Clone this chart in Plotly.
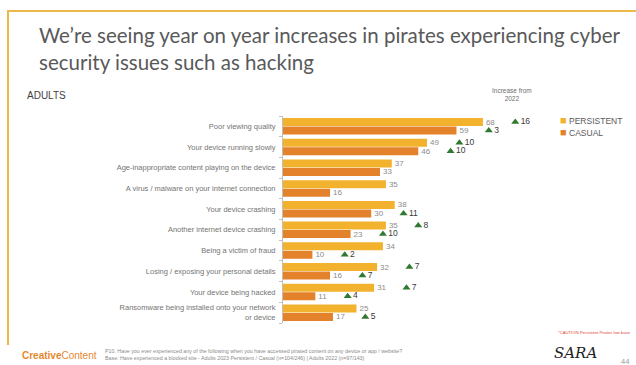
import plotly.graph_objects as go

# ---------------- data ----------------
categories = [
    "Poor viewing quality",
    "Your device running slowly",
    "Age-inappropriate content playing on the device",
    "A virus / malware on your internet connection",
    "Your device crashing",
    "Another internet device crashing",
    "Being a victim of fraud",
    "Losing / exposing your personal details",
    "Your device being hacked",
    "Ransomware being installed onto your network<br>or device",
]
persistent = [68, 49, 37, 35, 38, 35, 34, 32, 31, 25]
casual = [59, 46, 33, 16, 30, 23, 10, 16, 11, 17]
persistent_inc = [16, 10, None, None, None, 8, None, 7, 7, None]
casual_inc = [3, 10, None, None, 11, 10, 2, 7, 4, 5]
series_names = ["PERSISTENT", "CASUAL"]

# ---------------- layout geometry ----------------
W, H = 636, 365
L, R, T, B = 283, 59, 116, 42
PW, PH = W - L - R, H - T - B

def fx(p):
    return (p - L) / PW

def fy(p):
    return 1 - (p - T) / PH

C_PERS = "#F2B22E"
C_CAS = "#E4822B"
GREEN = "#2F7A2F"
LABEL_FONT = "Liberation Sans"

idx = list(range(len(categories)))
OFF = 0.205
BW = 0.385
INC_GAP = 11

fig = go.Figure()
for name, vals, color, sign in [(series_names[0], persistent, C_PERS, -1),
                                (series_names[1], casual, C_CAS, 1)]:
    fig.add_trace(go.Bar(
        name=name, orientation="h",
        x=vals, y=[i + sign * OFF for i in idx], width=BW,
        marker=dict(color=color, line=dict(width=0)),
        text=[str(v) for v in vals], textposition="outside",
        textfont=dict(size=8, color="#8c8c8c", family=LABEL_FONT),
        constraintext="none", cliponaxis=False, hoverinfo="skip",
        showlegend=False,
    ))

for vals, incs, sign in [(persistent, persistent_inc, -1), (casual, casual_inc, 1)]:
    xs, ys, ts = [], [], []
    for i, (v, inc) in enumerate(zip(vals, incs)):
        if inc is None:
            continue
        xs.append(v + INC_GAP)
        ys.append(i + sign * OFF)
        ts.append(str(inc))
    fig.add_trace(go.Scatter(
        x=xs, y=ys, mode="markers+text", text=ts,
        textposition="middle right",
        textfont=dict(size=8.5, color="#3a3a3a", family=LABEL_FONT),
        marker=dict(symbol="triangle-up", size=7, color=GREEN),
        showlegend=False, cliponaxis=False, hoverinfo="skip",
    ))

fig.update_layout(
    width=W, height=H,
    margin=dict(l=L, r=R, t=T, b=B, autoexpand=False),
    paper_bgcolor="white", plot_bgcolor="white",
    barmode="overlay",
    showlegend=False,
    xaxis=dict(range=[0, 100], visible=False, fixedrange=True),
    yaxis=dict(
        range=[len(categories) - 0.5, -0.5],
        tickvals=idx, ticktext=categories,
        tickfont=dict(size=7.5, color="#747474", family=LABEL_FONT),
        showline=True, linecolor="#bfbfbf", linewidth=1,
        ticks="", showgrid=False, zeroline=False,
        ticklabelstandoff=5, automargin=False,
        minor=dict(ticks="outside", tick0=-0.5, dtick=1, ticklen=3,
                   tickcolor="#bfbfbf", showgrid=False),
    ),
)

ann = []
TITLE_FONT = dict(size=20.5, color="#595959", family="Lato")
ann.append(dict(x=fx(37), y=fy(35), xref="paper", yref="paper",
                text="We\u2019re seeing year on year increases in pirates experiencing cyber",
                showarrow=False, xanchor="left", yanchor="middle", font=TITLE_FONT))
ann.append(dict(x=fx(37), y=fy(62), xref="paper", yref="paper",
                text="security issues such as hacking",
                showarrow=False, xanchor="left", yanchor="middle", font=TITLE_FONT))
ann.append(dict(x=fx(25), y=fy(95), xref="paper", yref="paper", text="ADULTS",
                showarrow=False, xanchor="left", yanchor="middle",
                font=dict(size=10, color="#3f3f3f", family=LABEL_FONT)))
ann.append(dict(x=fx(512), y=fy(94), xref="paper", yref="paper",
                text="Increase from<br>2022", showarrow=False,
                xanchor="center", yanchor="middle",
                font=dict(size=6.5, color="#6e6e6e", family=LABEL_FONT)))
# legend drawn as text
for k, (name, color) in enumerate(zip(series_names, [C_PERS, C_CAS])):
    ann.append(dict(x=fx(558), y=fy(120 + 12 * k), xref="paper", yref="paper",
                    text=f'<span style="color:{color};font-size:11px">\u25A0</span> {name}',
                    showarrow=False, xanchor="left", yanchor="middle",
                    font=dict(size=8.5, color="#595959", family=LABEL_FONT)))
ann.append(dict(x=fx(594), y=fy(332), xref="paper", yref="paper",
                text="*CAUTION Persistent Pirates low base", showarrow=False,
                xanchor="center", yanchor="middle",
                font=dict(size=4.2, color="#e0453a", family=LABEL_FONT)))
ann.append(dict(x=fx(20), y=fy(355), xref="paper", yref="paper",
                text="<b>Creative</b>Content", showarrow=False,
                xanchor="left", yanchor="middle",
                font=dict(size=10, color="#E5892F", family=LABEL_FONT)))
ann.append(dict(x=fx(103), y=fy(354), xref="paper", yref="paper",
                text=("P10. Have you ever experienced any of the following when you have accessed pirated content on any device or app / website?"
                      "<br>Base: Have experienced a blocked site - Adults 2023 Persistent / Casual (n=104/246) | Adults 2022 (n=97/143)"),
                showarrow=False, xanchor="left", yanchor="middle", align="left",
                font=dict(size=5.3, color="#8a8a8a", family=LABEL_FONT)))
ann.append(dict(x=fx(575), y=fy(353), xref="paper", yref="paper",
                text="<i>SARA</i>", showarrow=False,
                xanchor="center", yanchor="middle",
                font=dict(size=15, color="#222222", family="DejaVu Serif")))
ann.append(dict(x=fx(625), y=fy(361), xref="paper", yref="paper",
                text="44", showarrow=False, xanchor="center", yanchor="middle",
                font=dict(size=7.5, color="#9a9a9a", family=LABEL_FONT)))
fig.update_layout(annotations=ann)

FRAME = "#EDB84A"
fig.update_layout(shapes=[
    dict(type="line", xref="paper", yref="paper",
         x0=fx(7), x1=fx(640), y0=fy(11), y1=fy(11),
         line=dict(color=FRAME, width=2)),
    dict(type="line", xref="paper", yref="paper",
         x0=fx(8), x1=fx(8), y0=fy(10), y1=fy(345),
         line=dict(color=FRAME, width=2)),
])

fig.write_html("out.html")
